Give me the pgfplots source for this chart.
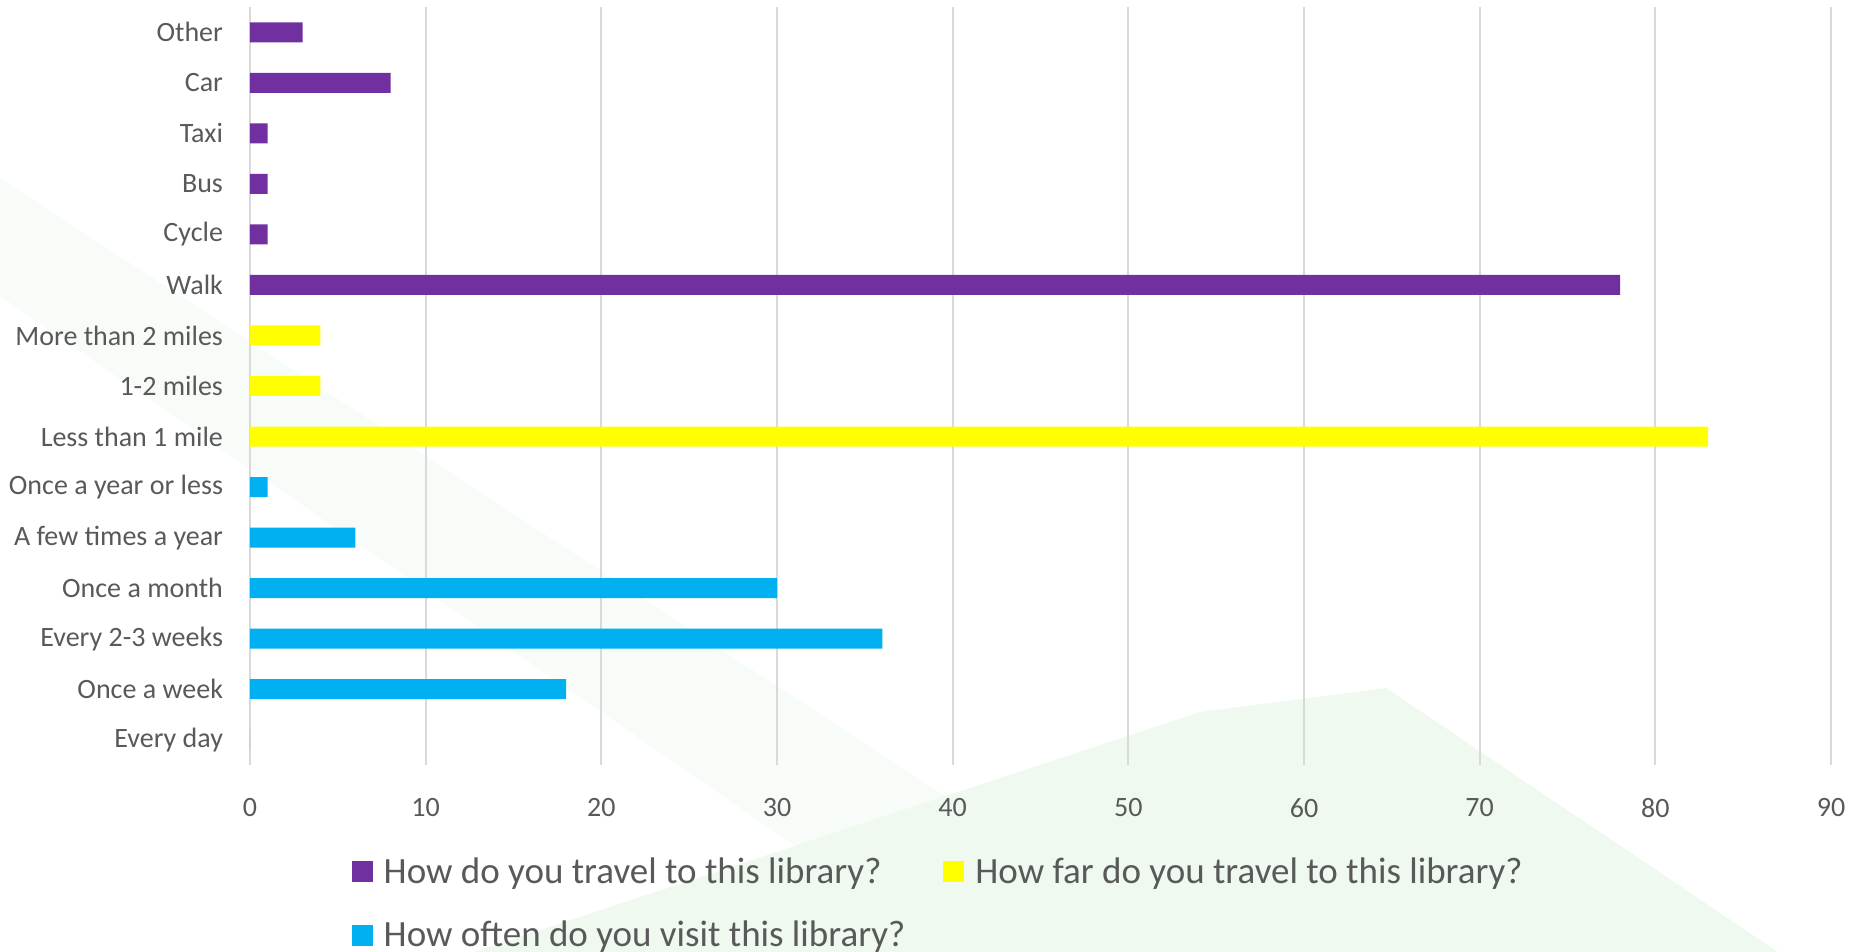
\documentclass[border=0pt]{standalone}
\usepackage{pgfplots}
\pgfplotsset{compat=1.18}
\usepackage{fontspec}
\setmainfont{Carlito}
\definecolor{cpurple}{HTML}{7030A0}
\definecolor{cyellow}{HTML}{FFFF00}
\definecolor{cblue}{HTML}{00B0F0}
\definecolor{ctext}{HTML}{595959}
\definecolor{cgrid}{HTML}{D9D9D9}
\definecolor{bgA}{HTML}{EFF9EF}
\definecolor{bgB}{HTML}{F8FCF8}
\begin{document}
\begin{tikzpicture}[x=1pt,y=1pt]
\useasboundingbox (0,0) rectangle (929,476);
\fill[bgB] (0,387) -- (0,328) -- (474,0) -- (592,0) -- cycle;
\fill[bgA] (237,0) -- (600,120) -- (693,132) -- (889,0) -- cycle;
\begin{axis}[
  at={(125pt,93.5pt)}, anchor=south west,
  scale only axis, width=790.5pt, height=379pt,
  xbar, bar shift=0pt, bar width=10pt,
  xmin=0, xmax=90, ymin=-0.5, ymax=14.5,
  xtick={0,10,...,90}, ytick={0,...,14},
  yticklabels={Every day, Once a week, Every 2-3 weeks, Once a month, A few times a year, Once a year or less, Less than 1 mile, 1-2 miles, More than 2 miles, Walk, Cycle, Bus, Taxi, Car, Other},
  xmajorgrids, major grid style={cgrid, line width=1pt},
  axis line style={draw=none}, major tick length=0pt,
  tick label style={font=\fontsize{14}{16}\selectfont, text=ctext},
  /pgf/number format/assume math mode=true,
  yticklabel style={xshift=-10pt},
  xticklabel style={yshift=-13.3pt},
  legend style={at={(0.0603,-0.111)}, anchor=north west, draw=none, fill=none,
    font=\fontsize{18.5}{21}\selectfont, text=ctext, legend columns=2,
    row sep=13.4pt, legend cell align=left,
    /tikz/every even column/.append style={column sep=17pt}},
  legend image code/.code={\fill[#1] (0pt,-5.25pt) rectangle (10.5pt,5.25pt); \path (14pt,0pt);},
]
\addplot[fill=cpurple, draw=none] coordinates {(78,9) (1,10) (1,11) (1,12) (8,13) (3,14)};
\addlegendentry{How do you travel to this library?}
\addplot[fill=cyellow, draw=none] coordinates {(83,6) (4,7) (4,8)};
\addlegendentry{How far do you travel to this library?}
\addplot[fill=cblue, draw=none] coordinates {(0,0) (18,1) (36,2) (30,3) (6,4) (1,5)};
\addlegendentry{How often do you visit this library?}
\end{axis}
\end{tikzpicture}
\end{document}
